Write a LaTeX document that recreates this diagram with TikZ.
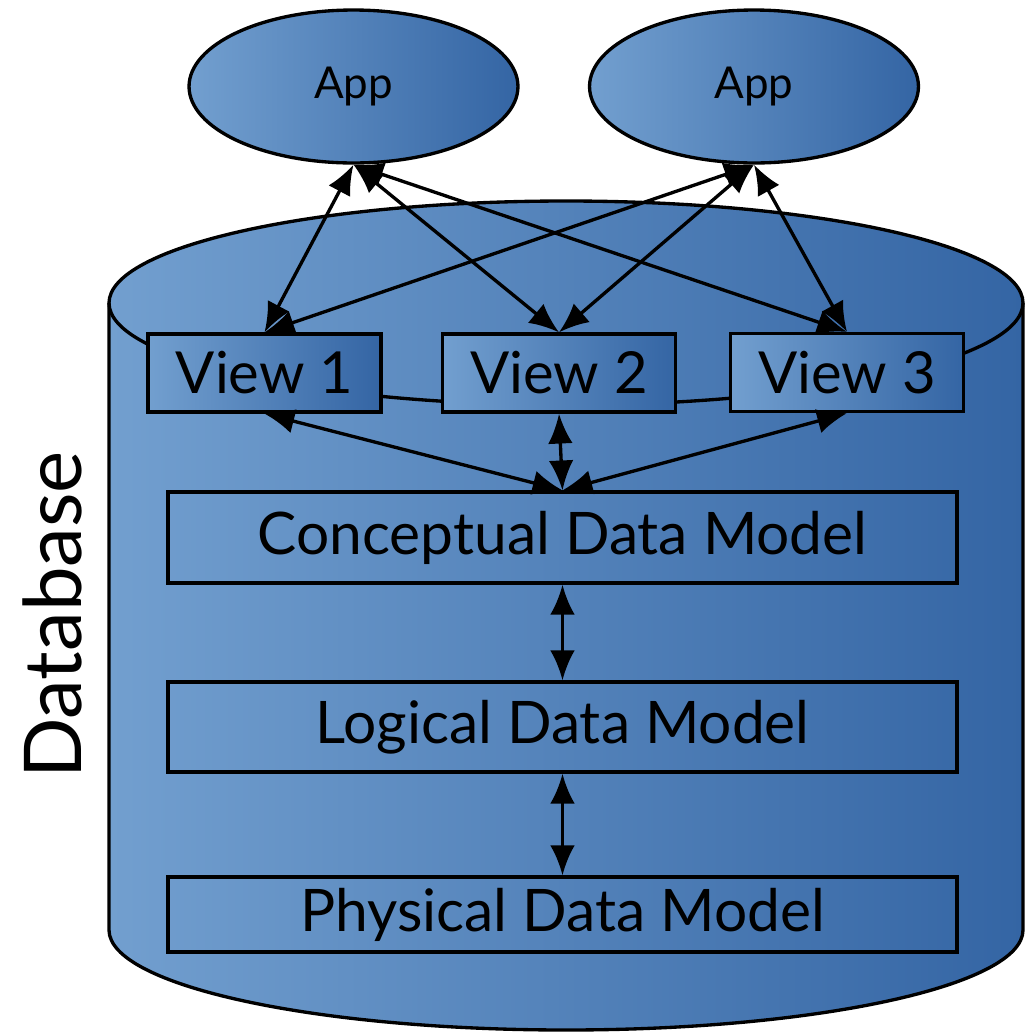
\documentclass[tikz,border=0pt]{standalone}
\usepackage{fontspec}
\setmainfont{Lato}
\usepackage{xcolor}
\usepackage{tikz}
\usetikzlibrary{shapes.geometric,arrows.meta}
\definecolor{skylight}{HTML}{729FCF}
\definecolor{skydark}{HTML}{3465A4}

\begin{document}
\begin{tikzpicture}[
        x=0.02cm, y=-0.02cm,
        every node/.style={draw, line width=1.9pt, inner sep=0pt, text=black},
        app/.style={ellipse, left color=skylight, right color=skydark, minimum width=6.58cm, minimum height=3.06cm, font=\fontsize{25}{30}\selectfont},
        view/.style={rectangle, left color=skylight, right color=skydark, minimum width=4.66cm, minimum height=1.56cm, font=\fontsize{33}{38}\selectfont},
        layer/.style={rectangle, minimum width=15.78cm, font=\fontsize{33.4}{40}\selectfont},
        link/.style={line width=1.9pt, {Latex[length=17pt,width=14pt]}-{Latex[length=17pt,width=14pt]}},
    ]
        \useasboundingbox (0,0) rectangle (1032,1032);
        % the database cylinder
        \draw[left color=skylight, right color=skydark, line width=1.9pt]
            (109,303) -- (109,930) arc[start angle=180, end angle=0, x radius=457, y radius=100]
            -- (1023,303) arc[start angle=0, end angle=-180, x radius=457, y radius=102] -- cycle;
        \draw[line width=1.9pt] (109,303) arc[start angle=180, end angle=0, x radius=457, y radius=102];
        \node[app] (app1) at (353.5,86.5) {App};
        \node[app] (app2) at (754,86.5) {App};
        \node[view] (view1) at (264.5,373) {View 1};
        \node[view] (view2) at (559,373) {View 2};
        \node[view] (view3) at (847,372.5) {View 3};
        \node[layer, minimum height=1.82cm] (concept) at (562.5,537.5) {Conceptual Data Model};
        \node[layer, minimum height=1.8cm] (logical) at (562.5,727) {Logical Data Model};
        \node[layer, minimum height=1.5cm] (physical) at (562.5,914.5) {Physical Data Model};
        \node[draw=none, rotate=90, font=\fontsize{45.4}{52}\selectfont] (db) at (52,615) {Database};
        \draw[link] (app1.south) -- (view1.north);
        \draw[link] (app1.south) -- (view2.north);
        \draw[link] (app1.south) -- (view3.north);
        \draw[link] (app2.south) -- (view1.north);
        \draw[link] (app2.south) -- (view2.north);
        \draw[link] (app2.south) -- (view3.north);
        \draw[link] (view1.south) -- (concept.north);
        \draw[link] (view2.south) -- (concept.north);
        \draw[link] (view3.south) -- (concept.north);
        \draw[link] (concept.south) -- (logical.north);
        \draw[link] (logical.south) -- (physical.north);
    \end{tikzpicture}
\end{document}
